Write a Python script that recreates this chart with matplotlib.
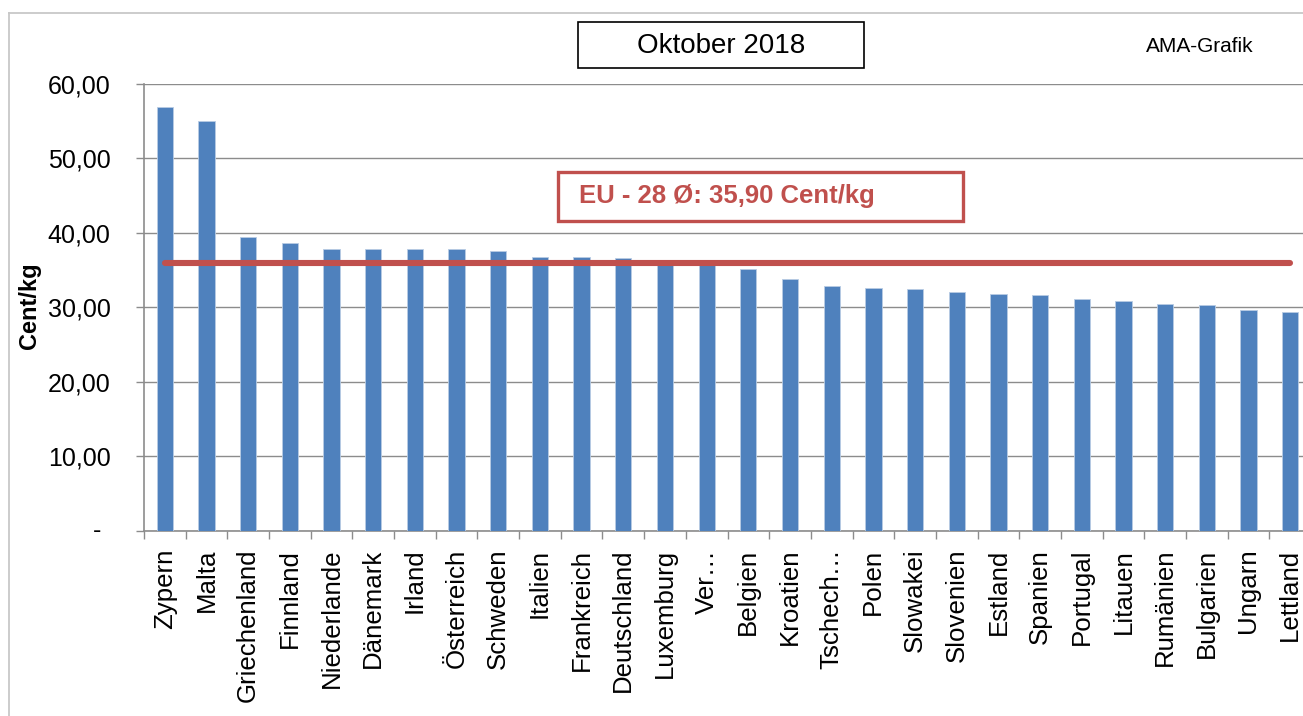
import matplotlib
matplotlib.use("Agg")
import matplotlib.pyplot as plt
from matplotlib.patches import Rectangle
from matplotlib.lines import Line2D
from matplotlib.ticker import FixedLocator, FuncFormatter

plt.rcParams['font.family'] = ['Liberation Sans', 'DejaVu Sans']

countries = ["Zypern", "Malta", "Griechenland", "Finnland", "Niederlande", "Dänemark",
             "Irland", "Österreich", "Schweden", "Italien", "Frankreich", "Deutschland",
             "Luxemburg", "Ver…", "Belgien", "Kroatien", "Tschech…", "Polen", "Slowakei",
             "Slovenien", "Estland", "Spanien", "Portugal", "Litauen", "Rumänien",
             "Bulgarien", "Ungarn", "Lettland"]
prices = [56.9, 55.0, 39.5, 38.7, 37.9, 37.85, 37.85, 37.85, 37.6, 36.8, 36.7, 36.6,
          35.9, 35.8, 35.2, 33.8, 32.85, 32.6, 32.5, 32.0, 31.8, 31.6, 31.1, 30.8,
          30.5, 30.3, 29.6, 29.35]
eu_avg = 35.90
yticks = [0, 10, 20, 30, 40, 50, 60]
title = "Oktober 2018"
eu_label = "EU - 28 Ø: 35,90 Cent/kg"

W, H = 1303, 716
fig = plt.figure(figsize=(W / 100, H / 100), dpi=100)
ax = fig.add_axes([144 / W, 1 - 530.7 / H, 1167 / W, (530.7 - 84) / H])

grid_c = '#8c8c8c'
x = list(range(len(countries)))
ax.bar(x, prices, width=0.39, color='#4f81bd', edgecolor='#b8cce4', linewidth=0.6, zorder=3)
ax.plot([x[0], x[-1]], [eu_avg, eu_avg], color='#c0504d', linewidth=4.4,
        solid_capstyle='round', zorder=4)

ax.set_xlim(-0.5, len(countries) - 0.5)
ax.set_ylim(0, 60)
ax.set_yticks(yticks)
ax.yaxis.set_major_formatter(FuncFormatter(lambda v, p: '' if v == 0 else f"{v:.2f}".replace('.', ',')))
ax.yaxis.grid(True, color=grid_c, linewidth=1.0, zorder=0)
ax.set_axisbelow(True)
ax.tick_params(axis='y', direction='out', length=6, width=1, color=grid_c,
               pad=18, labelsize=18, labelcolor='black')
ax.set_xticks(x)
ax.set_xticklabels(countries, rotation=90, fontsize=18.6)
ax.tick_params(axis='x', which='major', length=0, pad=13)
ax.xaxis.set_minor_locator(FixedLocator([i - 0.5 for i in range(len(countries) + 1)]))
ax.tick_params(axis='x', which='minor', direction='out', length=6, width=1, color=grid_c)
for s in ['top', 'right']:
    ax.spines[s].set_visible(False)
for s in ['left', 'bottom']:
    ax.spines[s].set_color(grid_c)
    ax.spines[s].set_linewidth(1.2)

# zero label shown as dash (Excel accounting style)
ax.text(-0.0365, 0, '-', transform=ax.get_yaxis_transform(), ha='right', va='center',
        fontsize=18)

fig.text(30 / W, 1 - 306 / H, 'Cent/kg', rotation=90, fontsize=17, fontweight='bold',
         ha='center', va='center')

# title box
fig.add_artist(Rectangle((578 / W, 1 - 68 / H), 286 / W, 46 / H, transform=fig.transFigure,
                         facecolor='white', edgecolor='black', linewidth=1.2))
fig.text(721 / W, 1 - 46 / H, title, fontsize=20, ha='center', va='center')

fig.text(1200 / W, 1 - 46 / H, 'AMA-Grafik', fontsize=15, ha='center', va='center')

# EU average box
fig.add_artist(Rectangle((558 / W, 1 - 221 / H), 405 / W, 49 / H, transform=fig.transFigure,
                         facecolor='white', edgecolor='#c0504d', linewidth=2.4, zorder=5))
fig.text(579 / W, 1 - 196 / H, eu_label, fontsize=18.5, fontweight='bold', color='#c0504d',
         ha='left', va='center', zorder=6)

# outer frame
fig.add_artist(Line2D([8.5 / W, 8.5 / W], [0, 1 - 12.7 / H], transform=fig.transFigure,
                      color='#c8c8c8', linewidth=1.3))
fig.add_artist(Line2D([8.5 / W, 1], [1 - 12.7 / H, 1 - 12.7 / H], transform=fig.transFigure,
                      color='#c8c8c8', linewidth=1.3))

fig.savefig('out.png', dpi=100)
